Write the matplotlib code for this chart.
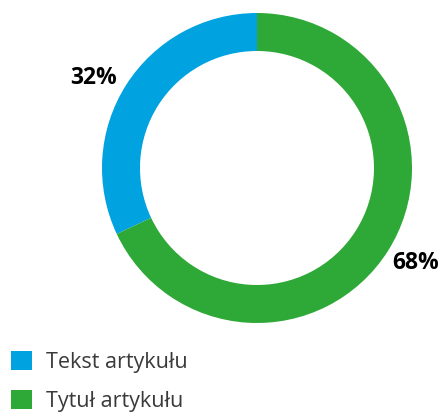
import matplotlib.pyplot as plt

# Data
labels = ["Tekst artykułu", "Tytuł artykułu"]
values = [32, 68]
colors = ["#00a3e0", "#2ea836"]
pct_text = ["32%", "68%"]

plt.rcParams['font.family'] = ['Open Sans', 'DejaVu Sans']

fig = plt.figure(figsize=(4.44, 4.12), dpi=100)
ax = fig.add_axes([0, 0, 1, 1])

# pixel-like coordinates, y upwards
cx, cy, r = 257, 412 - 168, 155
wedges, _ = ax.pie(values, colors=colors, startangle=90, counterclock=True,
                   center=(cx, cy), radius=r,
                   wedgeprops=dict(width=38, linewidth=0))
ax.set_xlim(0, 444)
ax.set_ylim(0, 412)
ax.set_aspect('equal')
ax.axis('off')

# percentage labels
ax.text(93.5, 412 - 78, pct_text[0], fontsize=16.5, fontweight='bold',
        ha='center', va='center', color='black')
ax.text(416, 412 - 263, pct_text[1], fontsize=16.5, fontweight='bold',
        ha='center', va='center', color='black')

fs = 15.5
leg = ax.legend(wedges, labels, loc='upper left', bbox_to_anchor=(0, 1 - 340 / 412),
                bbox_transform=fig.transFigure, frameon=False, fontsize=fs,
                handlelength=0.98, handleheight=0.98, handletextpad=0.65,
                labelspacing=0.82, borderpad=0.5, borderaxespad=0.0)
for t in leg.get_texts():
    t.set_color('#3a3a3a')

fig.savefig("out.png", dpi=100)
